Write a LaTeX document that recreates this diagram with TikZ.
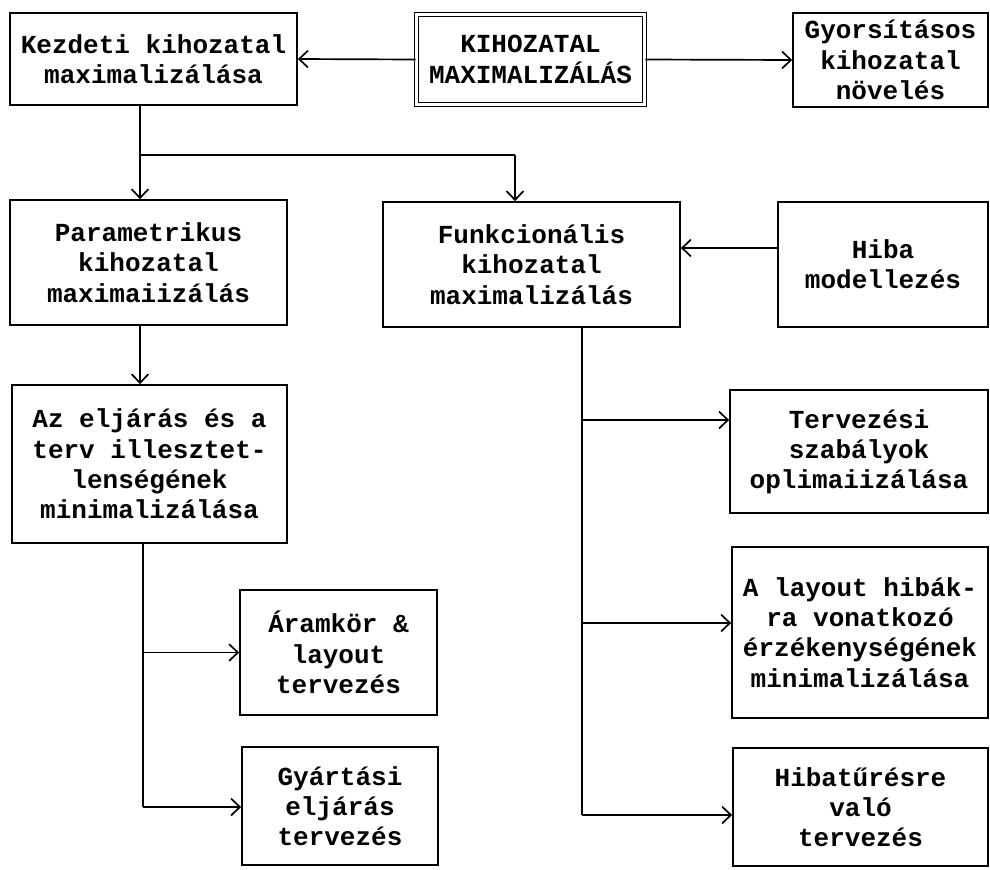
\documentclass[tikz,border=0pt]{standalone}
\usepackage{fontspec}
\setmonofont{Liberation Mono}
\usetikzlibrary{arrows.meta}
\begin{document}
\begin{tikzpicture}[x=0.025cm,y=-0.025cm,line width=1.2pt,
    box/.style={draw,align=center,inner sep=1pt,
      font=\ttfamily\bfseries\fontsize{18.5}{21.5}\selectfont},
    arr/.style={-{Straight Barb[length=2.2mm,width=4.2mm]}}]
    \useasboundingbox (0,0) rectangle (990,869);

    % top row
    \node[box,minimum width=5.7cm,minimum height=2.25cm,double,double distance=1.6pt] (kihoz) at (530.5,59.5) {KIHOZATAL\\MAXIMALIZÁLÁS};
    \node[box,minimum width=7.175cm,minimum height=2.3cm] (kezdeti) at (153.5,59) {Kezdeti kihozatal\\maximalizálása};
    \node[box,minimum width=4.875cm,minimum height=2.35cm] (gyors) at (890.5,60) {Gyorsításos\\kihozatal\\növelés};

    \draw[arr] (kihoz.west) -- (kezdeti.east);
    \draw[arr] (kihoz.east) -- (gyors.west);

    % second row
    \node[box,minimum width=6.925cm,minimum height=3.125cm] (param) at (148.5,262.5) {Parametrikus\\kihozatal\\maximaiizálás};
    \node[box,minimum width=7.425cm,minimum height=3.125cm] (funk) at (531.5,264.5) {Funkcionális\\kihozatal\\maximalizálás};
    \node[box,minimum width=5.25cm,minimum height=3.125cm] (hiba) at (883,264.5) {Hiba\\modellezés};

    \coordinate (split) at (140,155);
    \coordinate (fdrop) at (515,155);
    \draw (kezdeti.south -| split) -- (split) -- (fdrop);
    \draw[arr] (split) -- (split |- param.north);
    \draw[arr] (fdrop) -- (fdrop |- funk.north);
    \coordinate (hline) at (0,248);
    \draw[arr] (hiba.west |- hline) -- (funk.east |- hline);

    % left column
    \node[box,minimum width=6.875cm,minimum height=3.95cm] (eljar) at (149.5,464) {Az eljárás és a\\terv illesztet-\\lenségének\\minimalizálása};
    \node[box,minimum width=4.925cm,minimum height=3.125cm] (aramkor) at (338.5,652.5) {Áramkör \&\\layout\\tervezés};
    \node[box,minimum width=4.9cm,minimum height=2.95cm] (gyart) at (340,806) {Gyártási\\eljárás\\tervezés};

    \draw[arr] (split |- param.south) -- (split |- eljar.north);
    \coordinate (ltrunk) at (143,807);
    \draw (eljar.south -| ltrunk) -- (ltrunk);
    \draw[arr] (ltrunk |- aramkor.west) -- (aramkor.west);
    \draw[arr] (ltrunk) -- (ltrunk -| gyart.west);

    % right column
    \node[box,minimum width=6.45cm,minimum height=3.075cm] (terv) at (859,451.5) {Tervezési\\szabályok\\oplimaiizálása};
    \node[box,minimum width=6.4cm,minimum height=4.275cm] (layout) at (860,632.5) {A layout hibák-\\ra vonatkozó\\érzékenységének\\minimalizálása};
    \node[box,minimum width=6.375cm,minimum height=2.95cm] (hibatur) at (860.5,807) {Hibatűrésre\\való\\tervezés};

    \coordinate (b1) at (582,420);
    \coordinate (b2) at (582,623);
    \coordinate (b3) at (582,815);
    \draw (funk.south -| b1) -- (b3);
    \draw[arr] (b1) -- (b1 -| terv.west);
    \draw[arr] (b2) -- (b2 -| layout.west);
    \draw[arr] (b3) -- (b3 -| hibatur.west);
  \end{tikzpicture}
\end{document}
